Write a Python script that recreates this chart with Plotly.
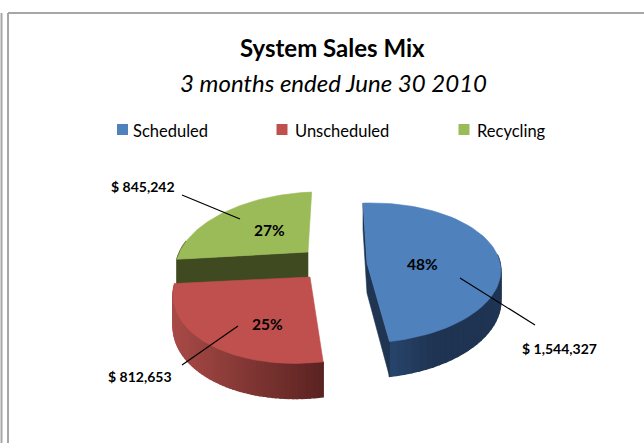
import math
import plotly.graph_objects as go

categories = ["Scheduled", "Unscheduled", "Recycling"]
sales = [1544327, 812653, 845242]
percent_labels = ["48%", "25%", "27%"]
amount_labels = ["$ 1,544,327", "$ 812,653", "$ 845,242"]
top_colors = ["#4F81BD", "#C0504D", "#9BBB59"]
rim_light = ["#2D4E7B", "#A84A47", "#4A5727"]
rim_dark = ["#1F3452", "#5A2321", "#3F4A21"]
face_colors = ["#1F3552", "#5A2321", "#3F4A21"]
title = "System Sales Mix"
subtitle = "3 months ended June 30 2010"

W, H = 644, 443
RX, RY, P, DEPTH, VX = 133, 68.6, 0.143, 30, 400
START = -4
hubs = [(367, 263), (310, 277), (308, 252)]
turn_start = [0, 0, 3]
turn_end = [0, 4, 0]
stretch = [1.0, 1.08, 1.0]
rx_scale = [1.0, 1.0, 0.965]


def project(i, deg, down=0.0):
    hx, hy = hubs[i]
    t = math.radians(deg)
    u, v = math.sin(t), -math.cos(t)
    s = 1 / (1 - P * v)
    k = stretch[i] if v > 0 else 1.0
    return (hx + RX * rx_scale[i] * u * s + (hx - VX) * (s - 1),
            hy + RY * v * s * k + DEPTH * s * down)


def hub_point(i, down=0.0):
    return hubs[i][0], hubs[i][1] + DEPTH * down


def mix(a, b, f):
    pa = [int(a[j:j + 2], 16) for j in (1, 3, 5)]
    pb = [int(b[j:j + 2], 16) for j in (1, 3, 5)]
    return "rgb(%d,%d,%d)" % tuple(round(x + (y - x) * f) for x, y in zip(pa, pb))


def poly(fig, pts, color, name=None, width=0.6):
    fig.add_trace(go.Scatter(x=[p[0] for p in pts] + [pts[0][0]],
                             y=[p[1] for p in pts] + [pts[0][1]],
                             mode="lines", fill="toself", fillcolor=color,
                             line=dict(color=color, width=width), hoverinfo="skip",
                             showlegend=False, name=name))


total = sum(sales)
spans, cur = [], START
for i, val in enumerate(sales):
    a0 = cur + turn_start[i]
    cur += val / total * 360
    spans.append((a0, cur + turn_end[i]))

fig = go.Figure()
for i in (2, 0, 1):  # back slice first, the red one overlaps the green front face
    a0, a1 = spans[i]
    steps = 60
    angles = [a0 + (a1 - a0) * n / steps for n in range(steps + 1)]
    xs = [project(i, a)[0] for a in angles]
    lo, hi = min(xs), max(xs)
    for n in range(steps):
        aa, ab = angles[n], angles[n + 1]
        if -math.cos(math.radians((aa + ab) / 2)) < -0.15:
            continue
        xm = (project(i, aa)[0] + project(i, ab)[0]) / 2
        f = (xm - lo) / (hi - lo)
        if i == 0:
            f = min(1, (xm - lo) / 70)
        poly(fig, [project(i, aa), project(i, ab), project(i, ab, 1), project(i, aa, 1)],
             mix(rim_light[i], rim_dark[i], f), width=1.5)
    if i == 0:
        poly(fig, [project(i, a0), hub_point(i), project(i, a1),
                   project(i, a1, 1), hub_point(i, 1), project(i, a0, 1)], face_colors[i])
    if i == 2:
        poly(fig, [hub_point(i), project(i, a0), project(i, a0, 1), hub_point(i, 1)], face_colors[i])
    poly(fig, [hub_point(i)] + [project(i, a) for a in angles], top_colors[i], categories[i])

legend_x = [122.5, 282, 464]
legend_text_x = [131, 293, 475]
fig.add_trace(go.Scatter(x=legend_x, y=[129.5] * 3, mode="markers",
                         marker=dict(symbol="square", size=11, color=top_colors, line=dict(width=0)),
                         hoverinfo="skip", showlegend=False))

FONT = "Lato, sans-serif"
ann = []
def text(x, y, s, size, bold=False, italic=False, xanchor="center"):
    body = f"<b>{s}</b>" if bold else s
    body = f"<i>{body}</i>" if italic else body
    ann.append(dict(x=x, y=y, xref="x", yref="y", text=body, showarrow=False, xanchor=xanchor,
                    yanchor="middle", font=dict(family=FONT, size=size, color="#000000")))

text(332, 47, title, 24, bold=True)
text(333, 82, subtitle, 24, italic=True)
for i, c in enumerate(categories):
    text(legend_text_x[i], 131, c, 16.5, xanchor="left")
pct_pos = [(422, 264), (267, 324), (269, 230)]
amt_pos = [(559, 348), (140, 376), (143, 186)]
for i in range(3):
    text(*pct_pos[i], percent_labels[i], 15.5, bold=True)
    text(*amt_pos[i], amount_labels[i], 14, bold=True)

leaders = [((460, 278), (535, 325)), ((238, 326), (182, 365)), ((240, 219), (182, 195))]
shapes = [dict(type="line", x0=a[0], y0=a[1], x1=b[0], y1=b[1], xref="x", yref="y",
               line=dict(color="#000000", width=1.2)) for a, b in leaders]
frame = "#A6A6A6"
shapes += [
    dict(type="line", x0=8, y0=13, x1=644, y1=13, xref="x", yref="y", line=dict(color=frame, width=2)),
    dict(type="line", x0=8, y0=13, x1=8, y1=443, xref="x", yref="y", line=dict(color=frame, width=2)),
    dict(type="line", x0=1.5, y0=13, x1=1.5, y1=443, xref="x", yref="y", line=dict(color=frame, width=2)),
]

fig.update_layout(
    width=W, height=H, margin=dict(l=0, r=0, t=0, b=0), autosize=False,
    paper_bgcolor="#FFFFFF", plot_bgcolor="#FFFFFF", showlegend=False,
    xaxis=dict(range=[0, W], visible=False, fixedrange=True),
    yaxis=dict(range=[H, 0], visible=False, fixedrange=True),
    annotations=ann, shapes=shapes,
)
fig.write_html("out.html", config=dict(displayModeBar=False),
               post_script="document.body.style.margin='0';document.body.style.overflow='hidden';")
